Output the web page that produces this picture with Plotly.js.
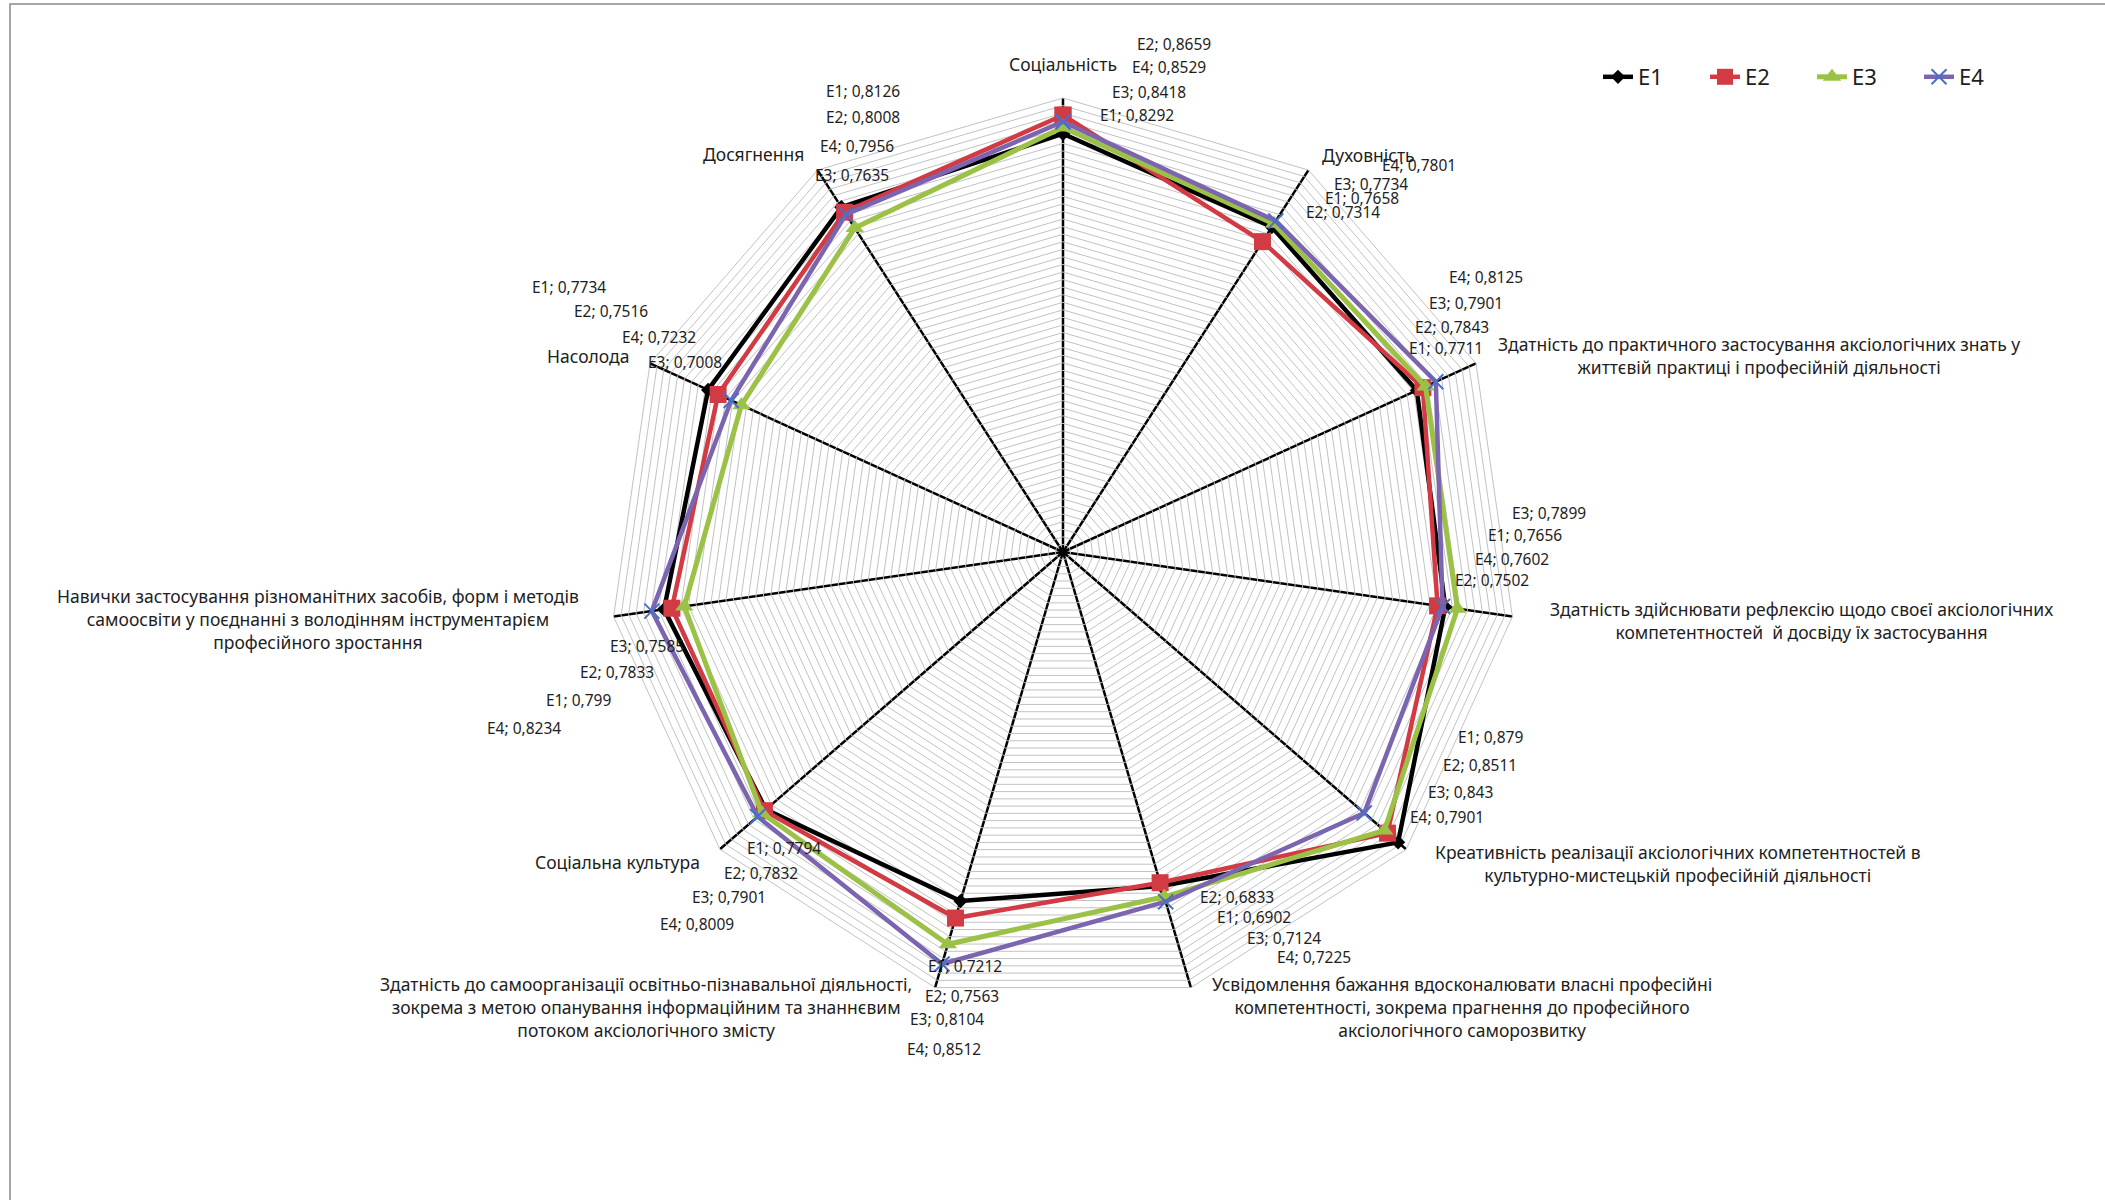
<!DOCTYPE html>
<html>
<head>
<meta charset="utf-8">
<script src="https://cdn.plot.ly/plotly-3.0.1.min.js"></script>
<style>
  html, body { margin: 0; padding: 0; background: #ffffff; }
  #chart { width: 2105px; height: 1200px; }
</style>
</head>
<body>
<div id="chart"></div>
<script>
// ---------------- DATA ----------------
const categories = [
  "Соціальність",
  "Духовність",
  "Здатність до практичного застосування аксіологічних знать у\nжиттєвій практиці і професійній діяльності",
  "Здатність здійснювати рефлексію щодо своєї аксіологічних\nкомпетентностей  й досвіду їх застосування",
  "Креативність реалізації аксіологічних компетентностей в\nкультурно-мистецькій професійній діяльності",
  "Усвідомлення бажання вдосконалювати власні професійні\nкомпетентності, зокрема прагнення до професійного\nаксіологічного саморозвитку",
  "Здатність до самоорганізації освітньо-пізнавальної діяльності,\nзокрема з метою опанування інформаційним та знаннєвим\nпотоком аксіологічного змісту",
  "Соціальна культура",
  "Навички застосування різноманітних засобів, форм і методів\nсамоосвіти у поєднанні з володінням інструментарієм\nпрофесійного зростання",
  "Насолода",
  "Досягнення"
];
const seriesNames = ["E1", "E2", "E3", "E4"];
const E1 = [0.8292, 0.7658, 0.7711, 0.7656, 0.879, 0.6902, 0.7212, 0.7794, 0.799, 0.7734, 0.8126];
const E2 = [0.8659, 0.7314, 0.7843, 0.7502, 0.8511, 0.6833, 0.7563, 0.7832, 0.7833, 0.7516, 0.8008];
const E3 = [0.8418, 0.7734, 0.7901, 0.7899, 0.843, 0.7124, 0.8104, 0.7901, 0.7585, 0.7008, 0.7635];
const E4 = [0.8529, 0.7801, 0.8125, 0.7602, 0.7901, 0.7225, 0.8512, 0.8009, 0.8234, 0.7232, 0.7956];
const seriesValues = [E1, E2, E3, E4];

// ---------------- LAYOUT / STYLE ----------------
const W = 2105, H = 1200;
const cx = 1063, cy = 552, R = 454;
const FONT = "'Noto Sans', 'DejaVu Sans', sans-serif";
const TEXT = "#1e1e1e";

const styles = [
  {line: {color: "#000000", width: 4.5}, marker: {symbol: "diamond", size: 11, color: "#000000"}},
  {line: {color: "#d23a44", width: 4.5}, marker: {symbol: "square", size: 17, color: "#d23a44"}},
  {line: {color: "#9bc246", width: 5},   marker: {symbol: "triangle-up", size: 16, color: "#9bc246"}},
  {line: {color: "#7b64b0", width: 4.5}, marker: {symbol: "x-thin", size: 15, color: "#4a6fc8", line: {color: "#4a6fc8", width: 2}}}
];

// category label centres (px)
const catLabelPos = [
  [1063, 64], [1368, 155], [1759, 355], [1801, 620], [1678, 863],
  [1462, 1007], [646, 1007], [617, 862], [318, 619], [588, 356], [753, 154]
];
// data label starts (px, left edge / vertical middle) indexed [category][series]
const dataLabelPos = [
  [[1098, 115], [1135, 44], [1110, 92], [1130, 67]],
  [[1323, 198], [1304, 212], [1332, 184], [1380, 165]],
  [[1407, 348], [1413, 327], [1427, 303], [1447, 277]],
  [[1486, 535], [1453, 580], [1510, 513], [1473, 559]],
  [[1456, 737], [1441, 765], [1426, 792], [1408, 817]],
  [[1215, 917], [1198, 897], [1245, 938], [1275, 957]],
  [[926, 966], [923, 996], [908, 1019], [905, 1049]],
  [[745, 848], [722, 873], [690, 897], [658, 924]],
  [[544, 700], [578, 672], [608, 646], [485, 728]],
  [[530, 287], [572, 311], [646, 362], [620, 337]],
  [[824, 91], [824, 117], [813, 175], [818, 146]]
];

const px = x => x / W;
const py = y => 1 - y / H;
const fmt = v => String(v).replace(".", ",");

// ---------------- TRACES ----------------
const traces = seriesValues.map((vals, i) => ({
  type: "scatterpolar",
  mode: "lines+markers",
  name: seriesNames[i],
  r: vals.concat([vals[0]]),
  theta: categories.concat([categories[0]]),
  line: styles[i].line,
  marker: styles[i].marker,
  hoverinfo: "name+r"
}));

// ---------------- ANNOTATIONS ----------------
const annotations = [];
categories.forEach((c, k) => {
  annotations.push({
    xref: "paper", yref: "paper",
    x: px(catLabelPos[k][0]), y: py(catLabelPos[k][1]),
    xanchor: "center", yanchor: "middle", align: "center",
    text: c.replace(/\n/g, "<br>"),
    showarrow: false,
    font: {family: FONT, size: 17.5, color: TEXT}
  });
  seriesValues.forEach((vals, i) => {
    const p = dataLabelPos[k][i];
    annotations.push({
      xref: "paper", yref: "paper",
      x: px(p[0]), y: py(p[1]),
      xanchor: "left", yanchor: "middle",
      text: seriesNames[i] + "; " + fmt(vals[k]),
      showarrow: false,
      font: {family: FONT, size: 15.5, color: TEXT}
    });
  });
});

const layout = {
  width: W, height: H,
  margin: {l: 0, r: 0, t: 0, b: 0, autoexpand: false},
  paper_bgcolor: "#ffffff",
  font: {family: FONT, color: TEXT},
  showlegend: true,
  legend: {
    orientation: "h",
    x: px(1598), y: py(77), xanchor: "left", yanchor: "middle",
    font: {family: FONT, size: 22, color: TEXT},
    entrywidth: 62, entrywidthmode: "pixels",
    bgcolor: "rgba(0,0,0,0)"
  },
  polar: {
    domain: {x: [px(cx - R), px(cx + R)], y: [py(cy + R), py(cy - R)]},
    bgcolor: "#ffffff",
    gridshape: "linear",
    radialaxis: {
      range: [0, 0.9], tick0: 0, dtick: 0.015,
      showticklabels: false, ticks: "", showline: false,
      gridcolor: "#c2c2c2", gridwidth: 1, angle: 90
    },
    angularaxis: {
      rotation: 90, direction: "clockwise",
      showticklabels: false, ticks: "",
      gridcolor: "#000000", gridwidth: 2.5,
      showline: true, linecolor: "#c2c2c2", linewidth: 1
    }
  },
  shapes: [{
    type: "rect", xref: "paper", yref: "paper",
    x0: px(10), x1: px(2200), y0: py(1300), y1: py(4),
    line: {color: "#8a8a8a", width: 1.5}, fillcolor: "rgba(0,0,0,0)"
  }],
  annotations: annotations
};

Plotly.newPlot("chart", traces, layout, {displayModeBar: false, staticPlot: true});
</script>
</body>
</html>
